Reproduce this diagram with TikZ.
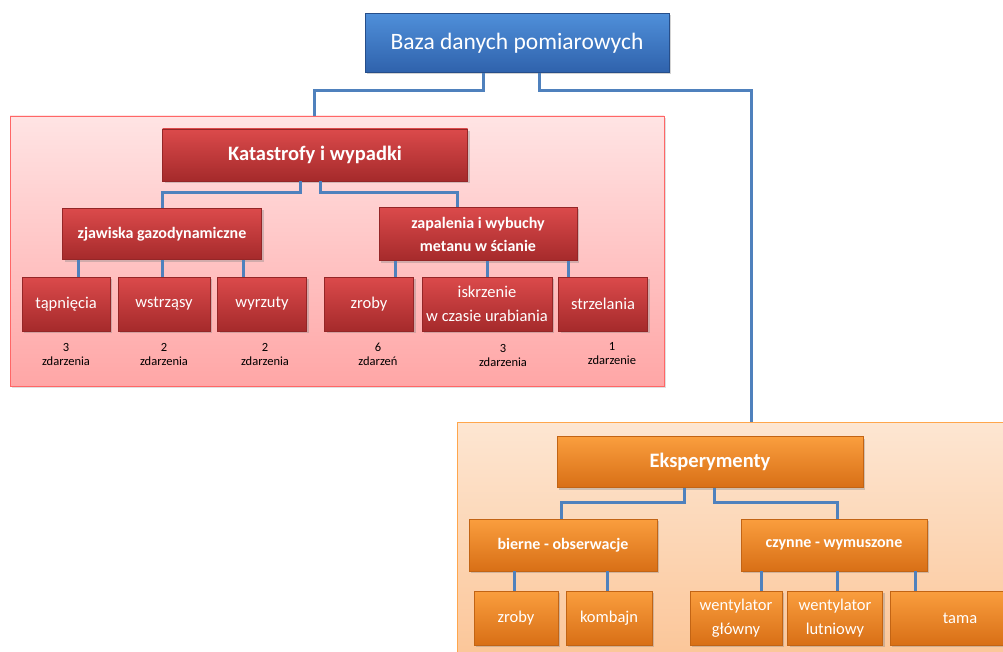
\documentclass[tikz,border=0pt]{standalone}
\usepackage{fontspec}
\setmainfont{Carlito}
\usetikzlibrary{shadows}

\definecolor{bazatop}{HTML}{4F8FD9}
\definecolor{bazabot}{HTML}{2F62AC}
\definecolor{redtop}{HTML}{DB4A4B}
\definecolor{redbot}{HTML}{A52A2B}
\definecolor{orangetop}{HTML}{FA9E3E}
\definecolor{orangebot}{HTML}{D86F16}
\definecolor{redpanel}{HTML}{FFE4E4}
\definecolor{redpanelbot}{HTML}{FFA6A6}
\definecolor{orangepanel}{HTML}{FDE6D2}
\definecolor{orangepanelbot}{HTML}{FBC08E}
\definecolor{linkblue}{HTML}{4F81BD}

\begin{document}
\begin{tikzpicture}[x=1pt, y=-1pt,
	box/.style={rectangle, inner sep=2pt, text=white, align=center,
		drop shadow={opacity=0.35, shadow xshift=2pt, shadow yshift=-2pt}},
	bazabox/.style={box, top color=bazatop, bottom color=bazabot, draw=bazabot!80!black,
		font=\fontsize{23.5}{27}\selectfont},
	redbox/.style={box, top color=redtop, bottom color=redbot, draw=redbot!90!black},
	orangebox/.style={box, top color=orangetop, bottom color=orangebot, draw=orangebot!90!black},
	head/.style={font=\bfseries\fontsize{20.5}{24}\selectfont},
	sub/.style={font=\bfseries\fontsize{16}{23}\selectfont},
	leaf/.style={minimum width=89pt, minimum height=54pt, font=\fontsize{16.5}{24}\selectfont},
	count/.style={align=center, inner sep=0pt, font=\fontsize{12.5}{14}\selectfont},
	link/.style={draw=linkblue, line width=3pt},
	]
	
	\useasboundingbox (0,0) rectangle (1003,652);
	\clip (0,0) rectangle (1003,652);
	
	% ------------------------------------------------------------
	% Panels
	% ------------------------------------------------------------
	
	\node[rectangle, draw=red!60, top color=redpanel, bottom color=redpanelbot,
		minimum width=654pt, minimum height=270pt,
		drop shadow={opacity=0.25, shadow xshift=2pt, shadow yshift=-2pt}]
		(redpanel) at (337,251) {};
	
	\node[rectangle, draw=orange!70, top color=orangepanel, bottom color=orangepanelbot,
		minimum width=588pt, minimum height=278pt]
		(ekspanel) at (751,561) {};
	
	% ------------------------------------------------------------
	% Top
	% ------------------------------------------------------------
	
	\node[bazabox, minimum width=304pt, minimum height=59pt] (baza) at (517,43)
	{Baza danych pomiarowych};
	
	\draw[link] ([xshift=-34pt]baza.south) -- ++(0,18) -| (redpanel.north -| 314,0);
	\draw[link] ([xshift=22pt]baza.south) -- ++(0,18) -| (ekspanel.north);
	
	% ------------------------------------------------------------
	% Katastrofy i wypadki
	% ------------------------------------------------------------
	
	\node[redbox, head, minimum width=305pt, minimum height=52pt] (kat) at (315,155)
	{Katastrofy i wypadki};
	
	\node[redbox, sub, minimum width=199pt, minimum height=51pt] (zjaw) at (162,234)
	{zjawiska gazodynamiczne};
	
	\node[redbox, sub, minimum width=198pt, minimum height=53pt] (zap) at (478,234)
	{zapalenia i wybuchy\\metanu w ścianie};
	
	\draw[link] ([xshift=-15pt]kat.south) -- ++(0,11) -| (zjaw.north);
	\draw[link] ([xshift=5pt]kat.south) -- ++(0,11) -| ([xshift=-21pt]zap.north);
	
	\node[redbox, leaf, minimum width=88pt] (tap) at (66,304) {tąpnięcia};
	\node[redbox, leaf, minimum width=92pt] (wst) at (164,304) {wstrząsy};
	\node[redbox, leaf] (wyr) at (262,304) {wyrzuty};
	
	\node[redbox, leaf] (zrob) at (369,304) {zroby};
	\node[redbox, leaf, minimum width=130pt] (isk) at (487,304) {iskrzenie\\w czasie urabiania};
	\node[redbox, leaf] (strz) at (603,304) {strzelania};
	
	\draw[link] ([xshift=-84pt]zjaw.south) -- ([xshift=-84pt]zjaw.south |- tap.north);
	\draw[link] (zjaw.south) -- (zjaw.south |- wst.north);
	\draw[link] ([xshift=81pt]zjaw.south) -- ([xshift=81pt]zjaw.south |- wyr.north);
	
	\draw[link] ([xshift=-83pt]zap.south) -- ([xshift=-83pt]zap.south |- zrob.north);
	\draw[link] ([xshift=9pt]zap.south) -- ([xshift=9pt]zap.south |- isk.north);
	\draw[link] ([xshift=90pt]zap.south) -- ([xshift=90pt]zap.south |- strz.north);
	
	% liczba zdarzen
	\node[count] (ntap)  at (66,354)  {3\\zdarzenia};
	\node[count] (nwst)  at (164,354) {2\\zdarzenia};
	\node[count] (nwyr)  at (265,354) {2\\zdarzenia};
	\node[count] (nzrob) at (378,354) {6\\zdarzeń};
	\node[count] (nisk)  at (503,355) {3\\zdarzenia};
	\node[count] (nstrz) at (612,354) {1\\zdarzenie};
	
	% ------------------------------------------------------------
	% Eksperymenty
	% ------------------------------------------------------------
	
	\node[orangebox, head, minimum width=306pt, minimum height=51pt] (eks) at (710,462)
	{Eksperymenty};
	
	\node[orangebox, sub, minimum width=188pt, minimum height=52pt] (bier) at (563,545)
	{bierne - obserwacje};
	
	\node[orangebox, sub, minimum width=186pt, minimum height=52pt] (czyn) at (834,545)
	{czynne - wymuszone};
	
	\draw[link] ([xshift=-26pt]eks.south) -- ++(0,15) -| ([xshift=-2pt]bier.north);
	\draw[link] ([xshift=4pt]eks.south) -- ++(0,15) -| ([xshift=3pt]czyn.north);
	
	\node[orangebox, leaf, minimum width=84pt] (zrob2) at (516,618) {zroby};
	\node[orangebox, leaf, minimum width=86pt] (komb) at (609,618) {kombajn};
	\node[orangebox, leaf, minimum width=92pt] (wgl) at (736,618) {wentylator\\główny};
	\node[orangebox, leaf, minimum width=95pt] (wlut) at (835,618) {wentylator\\lutniowy};
	\node[orangebox, leaf, minimum width=140pt] (tama) at (960,618) {tama};
	
	\draw[link] ([xshift=-49pt]bier.south) -- ([xshift=-49pt]bier.south |- zrob2.north);
	\draw[link] ([xshift=44pt]bier.south) -- ([xshift=44pt]bier.south |- komb.north);
	\draw[link] ([xshift=-73pt]czyn.south) -- ([xshift=-73pt]czyn.south |- wgl.north);
	\draw[link] ([xshift=3pt]czyn.south) -- ([xshift=3pt]czyn.south |- wlut.north);
	\draw[link] ([xshift=81pt]czyn.south) -- ([xshift=81pt]czyn.south |- tama.north);
	
\end{tikzpicture}
\end{document}
